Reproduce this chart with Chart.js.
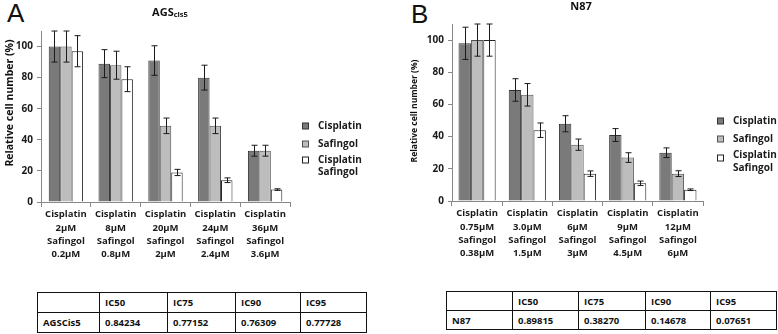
<!DOCTYPE html>
<html>
<head>
<meta charset="utf-8">
<script src="https://cdn.jsdelivr.net/npm/chart.js@4.4.0/dist/chart.umd.min.js"></script>
<style>
    body { margin: 0; background: #fff; font-family: "Open Sans", sans-serif; }
    #wrap { position: relative; width: 778px; height: 334px; overflow: hidden; }
    .panel { position: absolute; top: 0; height: 270px; }
    .letter { position: absolute; font-family: "Liberation Sans", Arial, sans-serif; font-size: 26px; color: #111; }
    table.ic { position: absolute; border-collapse: collapse; font: bold 9.5px "Open Sans", sans-serif; color: #111; }
    table.ic td { border: 1.5px solid #111; padding: 0 0 0 5px; text-align: left; }
</style>
</head>
<body>
<div id="wrap">
    <div class="letter" style="left:7px; top:-2px;">A</div>
    <div class="letter" style="left:411px; top:-1px;">B</div>
    <div class="panel" style="left:0; width:390px;"><canvas id="chartA" width="390" height="270"></canvas></div>
    <div class="panel" style="left:390px; width:388px;"><canvas id="chartB" width="388" height="270"></canvas></div>

    <table class="ic" id="tableA" style="left:37px; top:292px;">
        <colgroup><col style="width:62px"><col style="width:68px"><col style="width:68px"><col style="width:65px"><col style="width:66px"></colgroup>
    </table>
    <table class="ic" id="tableB" style="left:446px; top:291px;">
        <colgroup><col style="width:66px"><col style="width:66px"><col style="width:67px"><col style="width:65px"><col style="width:66px"></colgroup>
    </table>
</div>

<script>
// ---- data ----
const seriesNames = ['Cisplatin', 'Safingol', 'Cisplatin Safingol'];

const labelsA = [
    ['Cisplatin', '2µM', 'Safingol', '0.2µM'],
    ['Cisplatin', '8µM', 'Safingol', '0.8µM'],
    ['Cisplatin', '20µM', 'Safingol', '2µM'],
    ['Cisplatin', '24µM', 'Safingol', '2.4µM'],
    ['Cisplatin', '36µM', 'Safingol', '3.6µM']
];
const cisA = [100, 89, 91, 80, 33];
const cisErrA = [10, 9, 9.5, 8, 3.5];
const safA = [100, 88, 49, 49, 33];
const safErrA = [10, 9, 5, 5, 3.5];
const comboA = [97, 79, 19, 14, 8];
const comboErrA = [10, 8, 2, 1.5, 0.5];

const labelsB = [
    ['Cisplatin', '0.75µM', 'Safingol', '0.38µM'],
    ['Cisplatin', '3.0µM', 'Safingol', '1.5µM'],
    ['Cisplatin', '6µM', 'Safingol', '3µM'],
    ['Cisplatin', '9µM', 'Safingol', '4.5µM'],
    ['Cisplatin', '12µM', 'Safingol', '6µM']
];
const cisB = [98, 69, 48, 41, 30];
const cisErrB = [10, 7, 5, 4, 3];
const safB = [100, 66, 35, 27, 17];
const safErrB = [10, 7, 3.5, 3, 1.8];
const comboB = [100, 44, 17, 11, 7];
const comboErrB = [10, 4.5, 1.7, 1.4, 0.5];

const icHeaders = ['', 'IC50', 'IC75', 'IC90', 'IC95'];
const icRowA = ['AGSCis5', '0.84234', '0.77152', '0.76309', '0.77728'];
const icRowB = ['N87', '0.89815', '0.38270', '0.14678', '0.07651'];

const yTicks = [0, 20, 40, 60, 80, 100];

// ---- drawing ----
const FONT = '"Open Sans"';
const fills = ['#7a7a7a', '#bdbdbd', '#ffffff'];
const borders = ['#333333', '#505050', '#222222'];

// error bars, title, y-axis title and legend drawn on the canvas
const panelDecor = {
    id: 'panelDecor',
    afterDatasetsDraw(chart, args, opts) {
        const ctx = chart.ctx;
        const y = chart.scales.y;
        ctx.save();
        ctx.strokeStyle = '#1a1a1a';
        ctx.lineWidth = 1;
        chart.data.datasets.forEach((ds, i) => {
            const meta = chart.getDatasetMeta(i);
            meta.data.forEach((bar, j) => {
                const v = ds.data[j], e = ds.errors[j];
                const x = Math.round(bar.x) + 0.5;
                const top = y.getPixelForValue(v + e);
                const bot = y.getPixelForValue(v - e);
                ctx.beginPath();
                ctx.moveTo(x, top); ctx.lineTo(x, bot);
                ctx.moveTo(x - 3, top); ctx.lineTo(x + 3, top);
                ctx.moveTo(x - 3, bot); ctx.lineTo(x + 3, bot);
                ctx.stroke();
            });
        });
        ctx.restore();
    },
    afterDraw(chart, args, opts) {
        const ctx = chart.ctx;
        ctx.save();
        ctx.fillStyle = '#111';
        ctx.textBaseline = 'middle';

        // title (with small suffix)
        ctx.font = 'bold 11px ' + FONT;
        const w1 = ctx.measureText(opts.title).width;
        ctx.font = 'bold 7.5px ' + FONT;
        const w2 = opts.titleSub ? ctx.measureText(opts.titleSub).width : 0;
        let tx = opts.titleX - (w1 + w2) / 2;
        ctx.textAlign = 'left';
        ctx.font = 'bold 11px ' + FONT;
        ctx.fillText(opts.title, tx, opts.titleY);
        if (opts.titleSub) {
            ctx.font = 'bold 7.5px ' + FONT;
            ctx.fillText(opts.titleSub, tx + w1, opts.titleY + 1.5);
        }

        // y-axis title
        ctx.save();
        ctx.translate(opts.yTitleX, opts.yTitleY);
        ctx.rotate(-Math.PI / 2);
        ctx.textAlign = 'center';
        ctx.font = 'bold ' + opts.yTitleSize + 'px ' + FONT;
        ctx.fillText('Relative cell number (%)', 0, 0);
        ctx.restore();

        // legend
        ctx.font = 'bold 10px ' + FONT;
        ctx.textAlign = 'left';
        chart.data.datasets.forEach((ds, i) => {
            const by = opts.legendBoxY[i];
            ctx.fillStyle = ds.backgroundColor;
            ctx.fillRect(opts.legendX + 0.5, by - 3, 6, 6);
            ctx.strokeStyle = ds.borderColor;
            ctx.strokeRect(opts.legendX + 0.5, by - 3, 6, 6);
            ctx.fillStyle = '#1a1a1a';
            ds.label.split(' ').forEach((line, k) => {
                ctx.fillText(line, opts.legendX + 16, opts.legendTextY[i] + k * opts.legendLine);
            });
        });
        ctx.restore();
    }
};

function makeChart(id, labels, series, errs, area, catPct, decor) {
    const canvas = document.getElementById(id);
    return new Chart(canvas, {
        type: 'bar',
        data: {
            labels: labels,
            datasets: series.map((d, i) => ({
                label: seriesNames[i],
                data: d,
                errors: errs[i],
                backgroundColor: fills[i],
                borderColor: borders[i],
                borderWidth: 1,
                borderSkipped: 'bottom',
                categoryPercentage: catPct,
                barPercentage: 1.0
            }))
        },
        options: {
            responsive: false,
            animation: false,
            events: [],
            layout: {
                padding: { top: area.top, right: canvas.width - area.right, left: 0, bottom: 0 }
            },
            plugins: {
                legend: { display: false },
                title: { display: false },
                tooltip: { enabled: false },
                panelDecor: decor
            },
            scales: {
                x: {
                    offset: true,
                    grid: { display: true, drawOnChartArea: false, drawTicks: true, tickLength: 5, color: '#888', offset: true },
                    border: { color: '#888' },
                    ticks: {
                        color: '#1a1a1a',
                        padding: 1,
                        maxRotation: 0,
                        autoSkip: false,
                        font: { family: FONT, weight: 'bold', size: 9.5, lineHeight: 1.4 }
                    },
                    afterFit(scale) { scale.height = canvas.height - area.bottom; }
                },
                y: {
                    min: 0,
                    max: 110,
                    grid: { display: true, drawOnChartArea: false, drawTicks: true, tickLength: 4, color: '#888' },
                    border: { color: '#888' },
                    afterBuildTicks(scale) { scale.ticks = yTicks.map(v => ({ value: v })); },
                    ticks: {
                        color: '#1a1a1a',
                        padding: 4,
                        font: { family: FONT, weight: 'bold', size: 10 }
                    },
                    afterFit(scale) { scale.width = area.left; }
                }
            }
        },
        plugins: [panelDecor]
    });
}

makeChart('chartA', labelsA, [cisA, safA, comboA], [cisErrA, safErrA, comboErrA],
    { left: 41, right: 290, top: 31, bottom: 202 }, 0.69,
    {
        title: 'AGS', titleSub: 'cis5', titleX: 170, titleY: 13,
        yTitleX: 10, yTitleY: 103, yTitleSize: 10.5,
        legendX: 302, legendBoxY: [126, 144, 160], legendTextY: [126, 144, 160], legendLine: 12.5
    });

makeChart('chartB', labelsB, [cisB, safB, comboB], [cisErrB, safErrB, comboErrB],
    { left: 62, right: 313, top: 24, bottom: 201 }, 0.74,
    {
        title: 'N87', titleSub: '', titleX: 191, titleY: 7,
        yTitleX: 25, yTitleY: 111, yTitleSize: 8.5,
        legendX: 327, legendBoxY: [121, 139, 158], legendTextY: [121, 139, 155], legendLine: 13.5
    });

// tables
function fillTable(id, rows) {
    const t = document.getElementById(id);
    rows.forEach(r => {
        const tr = document.createElement('tr');
        tr.style.height = id === 'tableA' ? '20px' : '19px';
        r.forEach(c => {
            const td = document.createElement('td');
            td.textContent = c;
            tr.appendChild(td);
        });
        t.appendChild(tr);
    });
}
fillTable('tableA', [icHeaders, icRowA]);
fillTable('tableB', [icHeaders, icRowB]);
</script>
</body>
</html>
